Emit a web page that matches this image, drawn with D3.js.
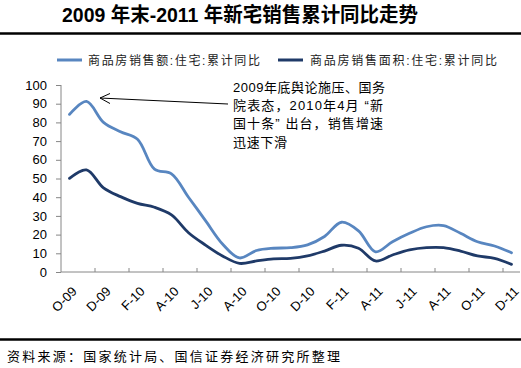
<!DOCTYPE html>
<html><head><meta charset="utf-8">
<script src="https://cdn.jsdelivr.net/npm/d3@7"></script>
<style>body{margin:0;background:#fff}svg{display:block}</style>
</head><body>
<svg id="c" width="521" height="368"></svg>
<script>
const months = ["2009-10","2009-11","2009-12","2010-01","2010-02","2010-03","2010-04","2010-05","2010-06","2010-07","2010-08","2010-09","2010-10","2010-11","2010-12","2011-01","2011-02","2011-03","2011-04","2011-05","2011-06","2011-07","2011-08","2011-09","2011-10","2011-11","2011-12"];
const tickLabels = ["O-09","D-09","F-10","A-10","J-10","A-10","O-10","D-10","F-11","A-11","J-11","A-11","O-11","D-11"];
const salesAmount = [84.3,91.2,80,75,71,55,52.5,40,27.5,15,7.5,11.5,12.7,13,14.5,19,26.6,22,10.8,16.2,20.7,24.2,24.8,20.7,16.2,13.9,10.3];
const salesArea = [50.1,54.6,45,40.3,36.7,34.6,30.5,21,14.4,8.6,4.6,5.9,7,7.3,8.6,11.2,14.3,12.7,5.9,9.1,11.8,13,13,11.2,8.6,7.3,4.1];
const yTicks = [0,10,20,30,40,50,60,70,80,90,100];
const seriesNames = ["商品房销售额:住宅:累计同比","商品房销售面积:住宅:累计同比"];
const colors = ["#5886C0","#1F3A68"];
const title = "2009 年末-2011 年新宅销售累计同比走势";
const noteLines = ["2009年底舆论施压、国务","院表态，2010年4月 “新","国十条” 出台，销售增速","迅速下滑"];
const source = "资料来源：国家统计局、国信证券经济研究所整理";

const svg = d3.select("#c");
const cjk = "'Liberation Sans','Noto Sans CJK SC',sans-serif";
const x = d3.scaleBand().domain(months).range([61,520]).padding(0);
const y = d3.scaleLinear().domain([0,100]).range([272,85]);
const axisColor = "#868686";

// title
svg.append("text").attr("x",62).attr("y",22).attr("font-family",cjk).attr("font-weight","bold")
  .attr("font-size",20).attr("fill","#000").attr("textLength",356).attr("lengthAdjust","spacingAndGlyphs").text(title);
svg.append("line").attr("x1",0).attr("x2",521).attr("y1",33.5).attr("y2",33.5).attr("stroke","#000").attr("stroke-width",2.5);

// legend
const legX = [[57,88,172],[278,310,187]];
seriesNames.forEach((n,i)=>{
  svg.append("line").attr("x1",legX[i][0]).attr("x2",legX[i][0]+25).attr("y1",60).attr("y2",60)
    .attr("stroke",colors[i]).attr("stroke-width",3);
  svg.append("text").attr("x",legX[i][1]).attr("y",64.5).attr("font-family",cjk).attr("font-size",12)
    .attr("fill","#222").attr("textLength",legX[i][2]).attr("lengthAdjust","spacing").text(n);
});

// y axis
const yAxis = d3.axisLeft(y).tickValues(yTicks).tickSize(5).tickPadding(9);
const gy = svg.append("g").attr("transform","translate(61,0)").call(yAxis);
gy.select(".domain").attr("stroke",axisColor).attr("d","M0,85V272");
gy.selectAll(".tick line").attr("stroke",axisColor);
gy.selectAll(".tick text").attr("font-family","'Liberation Sans',Arial,sans-serif").attr("font-size",13).attr("fill","#000");

// x axis
svg.append("line").attr("x1",61).attr("x2",520).attr("y1",272).attr("y2",272).attr("stroke",axisColor);
const tickIdx = d3.range(2,27,2);
svg.append("g").selectAll("line").data(tickIdx).join("line")
  .attr("x1",i=>x(months[i])).attr("x2",i=>x(months[i])).attr("y1",268).attr("y2",272).attr("stroke",axisColor);
svg.append("g").selectAll("text").data(tickLabels).join("text")
  .attr("transform",(d,k)=>`translate(${x(months[k*2])+x.bandwidth()/2+5},${289}) rotate(-45)`)
  .attr("text-anchor","end").attr("dy","0.35em")
  .attr("font-family","'Liberation Sans',Arial,sans-serif").attr("font-size",13).attr("fill","#000").text(d=>d);

// lines
const line = d3.line().x((d,i)=>x(months[i])+x.bandwidth()/2).y(d=>y(d)).curve(d3.curveCatmullRom.alpha(0.5));
[salesAmount,salesArea].forEach((s,i)=>{
  svg.append("path").datum(s).attr("d",line).attr("fill","none").attr("stroke",colors[i]).attr("stroke-width",2.8)
    .attr("stroke-linejoin","round").attr("stroke-linecap","round");
});

// annotation
const noteW = [152,150,150,54];
noteLines.forEach((l,i)=>{
  svg.append("text").attr("font-family",cjk).attr("font-size",13).attr("fill","#000")
    .attr("x",233).attr("y",92+i*18.2).attr("textLength",noteW[i]).attr("lengthAdjust","spacing").text(l);
});
svg.append("line").attr("x1",228).attr("y1",104).attr("x2",100).attr("y2",98).attr("stroke","#000").attr("stroke-width",1);
svg.append("path").attr("d","M110,93.5L100,98L110,103.5").attr("fill","none").attr("stroke","#000").attr("stroke-width",1);

// footer
svg.append("line").attr("x1",0).attr("x2",521).attr("y1",339.5).attr("y2",339.5).attr("stroke","#000").attr("stroke-width",2.5);
svg.append("text").attr("x",7).attr("y",361).attr("font-family",cjk).attr("font-size",13).attr("fill","#000")
  .attr("textLength",333).attr("lengthAdjust","spacing").text(source);
</script>
</body></html>
